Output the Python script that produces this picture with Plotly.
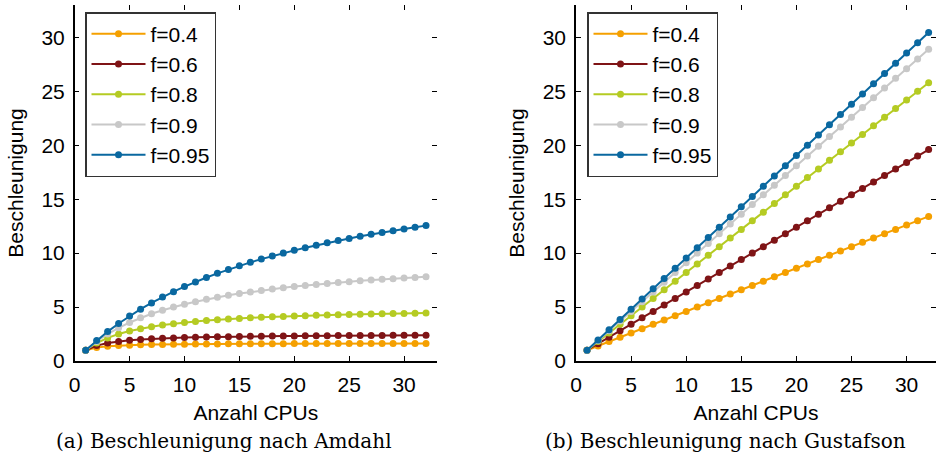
import plotly.graph_objects as go

cpus = list(range(1, 33))
labels = ["f=0.4", "f=0.6", "f=0.8", "f=0.9", "f=0.95"]
colors = ["#f5a000", "#7f1416", "#b5cb23", "#c8c8c8", "#0a68a0"]

amdahl_04 = [1.0, 1.25, 1.364, 1.429, 1.471, 1.5, 1.522, 1.538, 1.552, 1.563, 1.571, 1.579, 1.585, 1.591, 1.596, 1.6,
             1.604, 1.607, 1.61, 1.613, 1.615, 1.618, 1.62, 1.622, 1.623, 1.625, 1.627, 1.628, 1.629, 1.63, 1.632, 1.633]
amdahl_06 = [1.0, 1.429, 1.667, 1.818, 1.923, 2.0, 2.059, 2.105, 2.143, 2.174, 2.2, 2.222, 2.241, 2.258, 2.273, 2.286,
             2.297, 2.308, 2.317, 2.326, 2.333, 2.34, 2.347, 2.353, 2.358, 2.364, 2.368, 2.373, 2.377, 2.381, 2.385, 2.388]
amdahl_08 = [1.0, 1.667, 2.143, 2.5, 2.778, 3.0, 3.182, 3.333, 3.462, 3.571, 3.667, 3.75, 3.824, 3.889, 3.947, 4.0,
             4.048, 4.091, 4.13, 4.167, 4.2, 4.231, 4.259, 4.286, 4.31, 4.333, 4.355, 4.375, 4.394, 4.412, 4.429, 4.444]
amdahl_09 = [1.0, 1.818, 2.5, 3.077, 3.571, 4.0, 4.375, 4.706, 5.0, 5.263, 5.5, 5.714, 5.909, 6.087, 6.25, 6.4,
             6.538, 6.667, 6.786, 6.897, 7.0, 7.097, 7.188, 7.273, 7.353, 7.429, 7.5, 7.568, 7.632, 7.692, 7.75, 7.805]
amdahl_095 = [1.0, 1.905, 2.727, 3.478, 4.167, 4.8, 5.385, 5.926, 6.429, 6.897, 7.333, 7.742, 8.125, 8.485, 8.824, 9.143,
              9.444, 9.73, 10.0, 10.256, 10.5, 10.732, 10.952, 11.163, 11.364, 11.556, 11.739, 11.915, 12.083, 12.245, 12.4, 12.549]

gust_04 = [1.0, 1.4, 1.8, 2.2, 2.6, 3.0, 3.4, 3.8, 4.2, 4.6, 5.0, 5.4, 5.8, 6.2, 6.6, 7.0,
           7.4, 7.8, 8.2, 8.6, 9.0, 9.4, 9.8, 10.2, 10.6, 11.0, 11.4, 11.8, 12.2, 12.6, 13.0, 13.4]
gust_06 = [1.0, 1.6, 2.2, 2.8, 3.4, 4.0, 4.6, 5.2, 5.8, 6.4, 7.0, 7.6, 8.2, 8.8, 9.4, 10.0,
           10.6, 11.2, 11.8, 12.4, 13.0, 13.6, 14.2, 14.8, 15.4, 16.0, 16.6, 17.2, 17.8, 18.4, 19.0, 19.6]
gust_08 = [1.0, 1.8, 2.6, 3.4, 4.2, 5.0, 5.8, 6.6, 7.4, 8.2, 9.0, 9.8, 10.6, 11.4, 12.2, 13.0,
           13.8, 14.6, 15.4, 16.2, 17.0, 17.8, 18.6, 19.4, 20.2, 21.0, 21.8, 22.6, 23.4, 24.2, 25.0, 25.8]
gust_09 = [1.0, 1.9, 2.8, 3.7, 4.6, 5.5, 6.4, 7.3, 8.2, 9.1, 10.0, 10.9, 11.8, 12.7, 13.6, 14.5,
           15.4, 16.3, 17.2, 18.1, 19.0, 19.9, 20.8, 21.7, 22.6, 23.5, 24.4, 25.3, 26.2, 27.1, 28.0, 28.9]
gust_095 = [1.0, 1.95, 2.9, 3.85, 4.8, 5.75, 6.7, 7.65, 8.6, 9.55, 10.5, 11.45, 12.4, 13.35, 14.3, 15.25,
            16.2, 17.15, 18.1, 19.05, 20.0, 20.95, 21.9, 22.85, 23.8, 24.75, 25.7, 26.65, 27.6, 28.55, 29.5, 30.45]

amdahl = [amdahl_04, amdahl_06, amdahl_08, amdahl_09, amdahl_095]
gustafson = [gust_04, gust_06, gust_08, gust_09, gust_095]

x_ticks = [0, 5, 10, 15, 20, 25, 30]
y_ticks = [0, 5, 10, 15, 20, 25, 30]
x_title = "Anzahl CPUs"
y_title = "Beschleunigung"
captions = ["(a) Beschleunigung nach Amdahl", "(b) Beschleunigung nach Gustafson"]

SANS = "Liberation Sans, Arial, sans-serif"
SERIF = "DejaVu Serif, serif"
FS = 21

fig = go.Figure()

for i in range(5):
    fig.add_trace(go.Scatter(x=cpus, y=amdahl[i], mode="lines+markers", name=labels[i],
                             line=dict(color=colors[i], width=2), marker=dict(color=colors[i], size=7),
                             xaxis="x", yaxis="y", legend="legend", legendgroup="a%d" % i))
for i in range(5):
    fig.add_trace(go.Scatter(x=cpus, y=gustafson[i], mode="lines+markers", name=labels[i],
                             line=dict(color=colors[i], width=2), marker=dict(color=colors[i], size=7),
                             xaxis="x2", yaxis="y2", legend="legend2", legendgroup="b%d" % i))

# empty traces to create mirror-tick axes
fig.add_trace(go.Scatter(x=[], y=[], xaxis="x3", yaxis="y3", showlegend=False))
fig.add_trace(go.Scatter(x=[], y=[], xaxis="x4", yaxis="y4", showlegend=False))

W, H = 936, 456
dom1 = [74.7 / W, 437 / W]
dom2 = [576 / W, 1.0]
ydom = [(H - 361) / H, (H - 5) / H]
r1 = [0, 33]
r2 = [0, (936 - 576) / 11.02]
yr = [0, 33]

base_ax = dict(showgrid=False, zeroline=False, ticks="inside", ticklen=5, tickwidth=1, tickcolor="black",
               tickfont=dict(family=SANS, size=FS, color="black"), automargin=False)
axline = dict(showline=True, linecolor="black", linewidth=1.5)
tfont = dict(family=SANS, size=FS, color="black")

fig.update_layout(
    width=W, height=H, margin=dict(l=0, r=0, t=0, b=0, autoexpand=False),
    paper_bgcolor="white", plot_bgcolor="white",
    xaxis=dict(domain=dom1, range=r1, tickvals=x_ticks, anchor="y", ticklabelstandoff=4, **base_ax, **axline,
               title=dict(text=x_title, font=tfont, standoff=10)),
    yaxis=dict(domain=ydom, range=yr, tickvals=y_ticks, anchor="x", ticklabelstandoff=4, **base_ax, **axline,
               title=dict(text=y_title, font=tfont, standoff=12)),
    xaxis2=dict(domain=dom2, range=r2, tickvals=x_ticks, anchor="y2", ticklabelstandoff=4, **base_ax, **axline,
                title=dict(text=x_title, font=tfont, standoff=10)),
    yaxis2=dict(domain=ydom, range=yr, tickvals=y_ticks, anchor="x2", ticklabelstandoff=4, **base_ax, **axline,
                title=dict(text=y_title, font=tfont, standoff=12)),
    xaxis3=dict(overlaying="x", side="top", range=r1, tickvals=x_ticks, showticklabels=False, showline=False, anchor="y3",
                **base_ax),
    yaxis3=dict(overlaying="y", side="right", range=yr, tickvals=y_ticks, showticklabels=False, showline=False, anchor="x3",
                **base_ax),
    xaxis4=dict(overlaying="x2", side="top", range=r2, tickvals=x_ticks, showticklabels=False, showline=False, anchor="y4",
                **base_ax),
    yaxis4=dict(overlaying="y2", side="right", range=yr, tickvals=y_ticks, showticklabels=False, showline=False, anchor="x4",
                **base_ax),
    legend=dict(x=85 / W, y=(H - 12) / H, xanchor="left", yanchor="top", bgcolor="white",
                bordercolor="#333333", borderwidth=1.5, font=tfont,
                tracegroupgap=0, itemwidth=54),
    legend2=dict(x=(466 + 121) / W, y=(H - 12) / H, xanchor="left", yanchor="top", bgcolor="white",
                 bordercolor="#333333", borderwidth=1.5, font=tfont,
                 tracegroupgap=0, itemwidth=54),
    annotations=[
        dict(text=captions[0], x=224 / W, y=(H - 441) / H, xref="paper", yref="paper", showarrow=False,
             xanchor="center", yanchor="middle", font=dict(family=SERIF, size=20, color="black")),
        dict(text=captions[1], x=725 / W, y=(H - 441) / H, xref="paper", yref="paper", showarrow=False,
             xanchor="center", yanchor="middle", font=dict(family=SERIF, size=20, color="black")),
    ],
)

fig.write_html("out.html")
